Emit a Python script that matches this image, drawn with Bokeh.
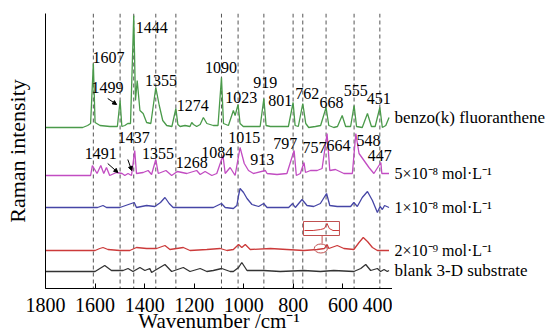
from bokeh.plotting import figure
from bokeh.layouts import row
from bokeh.models import Range1d, Span, Arrow, NormalHead, FixedTicker, ColumnDataSource
from bokeh.embed import file_html
from bokeh.resources import INLINE
from bokeh.core.properties import value

# ---------------- data (wavenumber / cm-1, stacked intensity) ----------------
green_wn = [1800,1650,1630,1618,1607,1600,1580,1540,1510,1499,1492,1480,1468,1457,1444,1437,1430,1419,1406,1392,
            1375,1355,1341,1327,1311,1290,1274,1266,1257,1237,1217,1210,1203,1190,1176,1163,1149,1123,1104,1090,
            1082,1062,1042,1035,1023,1015,1002,960,934,919,910,893,840,820,801,793,780,762,750,738,
            711,690,668,657,637,622,603,589,569,555,545,522,501,485,470,451,441,427,414]
green_y = [160,160,162,164,224,165,162,161,161,187,161,162,164,164,272,187,207,177,174,165,
           164,200,182,167,162,161,179,163,161,162,161,165,163,161,163,170,164,162,162,210,
           164,162,177,172,183,164,161,161,161,189,162,161,161,161,185,162,161,184,164,160,
           161,162,180,162,160,161,172,161,161,182,161,160,174,161,161,180,160,162,170]

purple_wn = [1800,1618,1611,1592,1577,1565,1554,1541,1514,1491,1480,1467,1453,1440,1433,1406,1386,1372,1355,1345,
             1314,1291,1268,1230,1190,1176,1156,1129,1109,1084,1075,1055,1035,1015,998,981,961,913,906,866,
             826,797,788,772,757,751,731,704,684,664,653,630,596,562,548,535,515,495,475,447,
             443,421,414]
purple_y = [112,112,122,114,122,114,120,112,115,114,112,114,112,137,114,115,117,113,128,114,
            117,112,116,114,117,113,116,112,114,132,114,120,112,140,124,117,114,117,114,113,
            114,137,112,114,125,115,117,117,119,154,117,118,114,114,154,134,127,120,114,125,
            114,114,114]

blue_wn = [1800,1590,1568,1554,1500,1442,1433,1392,1359,1336,1318,1301,1285,1230,1176,1123,1090,1075,1042,1028,
           1021,1015,1001,987,967,940,920,906,853,819,803,792,765,745,718,691,666,653,623,569,
           556,542,522,501,481,461,450,441,432,414]
blue_y = [80,80,82,80,80,85,80,82,81,85,90,84,80,80,80,80,84,80,79,82,
          92,99,95,89,83,81,84,80,80,80,84,80,88,82,81,84,94,82,81,81,
          85,81,90,96,87,75,81,78,82,80]

red_wn = [1800,1600,1581,1568,1548,1500,1460,1433,1392,1352,1318,1298,1244,1217,1149,1095,1068,1042,1021,1008,
          994,974,893,826,758,704,675,664,657,623,596,556,535,518,501,481,461,414]
red_y = [37,37,39,40,38,37,37,40,39,39,42,38,40,37,38,39,37,38,43,40,
         43,38,39,38,37,38,39,43,39,42,39,38,45,50,46,40,37,37]

black_wn = [1800,1600,1561,1534,1487,1467,1447,1419,1399,1379,1372,1359,1318,1291,1244,1217,1176,1149,1123,1089,
            1055,1042,1021,1008,987,920,853,758,691,637,556,528,508,488,461,448,434,421,414]
black_y = [16,16,22,17,17,19,16,20,17,19,15,17,23,16,20,16,19,16,17,19,
           16,16,20,25,17,17,16,17,16,17,16,19,23,17,19,16,18,16,17]

inset_wn = [755,720,690,675,664,655,640,616]
inset_y = [57,57,58,59,64,59,57,57]

peak_lines = [1607,1499,1444,1355,1274,1090,1023,919,801,762,668,555,451]

green_labels = ["1607","1499","1444","1355","1274","1090","1023","919","801","762","668","555","451"]
green_label_x = [1610,1614,1436,1399,1270,1156,1075,962,901,792,695,597,504]
green_label_y = [230,200,260,207,182,220,190,205,187,194,185,197,189]

purple_labels = ["1491","1437","1355","1268","1084","1015","913","797","757","664","548","447"]
purple_label_x = [1642,1508,1411,1274,1172,1063,974,881,763,666,545,500]
purple_label_y = [134,150,134,125,135,150,128,144,140,142,147,132]

name_labels = ["benzo(k) fluoranthene", "blank 3-D substrate"]
name_label_y = [170, 17]
conc_labels = ["5×10⁻⁸ mol·L⁻¹", "1×10⁻⁸ mol·L⁻¹", "2×10⁻⁹ mol·L⁻¹"]
conc_label_y = [114, 80, 37]
series_colors = ["#4a9a4a", "#c24cc2", "#4646a6", "#cc3a3a", "#333333"]

x_ticks = [1800,1600,1400,1200,1000,800,600,400]

SERIF = "Liberation Serif"
H = 336
BOTTOM = 48

# ---------------- main figure ----------------
yr = Range1d(-1, 274)
p = figure(width=392, height=H, output_backend="svg", toolbar_location=None,
           x_range=Range1d(1800, 400), y_range=yr,
           min_border_left=45, min_border_right=0, min_border_top=13, min_border_bottom=BOTTOM)
p.outline_line_color = None
p.grid.visible = False

p.xaxis.ticker = FixedTicker(ticks=x_ticks)
p.xaxis.major_tick_in = 5
p.xaxis.major_tick_out = 0
p.xaxis.minor_tick_line_color = None
p.xaxis.axis_line_color = "black"
p.xaxis.major_tick_line_color = "black"
p.xaxis.major_label_text_font = SERIF
p.xaxis.major_label_text_font_size = "20px"
p.xaxis.major_label_text_color = "black"
p.xaxis.major_label_standoff = 9
p.xaxis.axis_label = "Wavenumber /cm⁻¹"
p.xaxis.axis_label_text_font = SERIF
p.xaxis.axis_label_text_font_size = "21px"
p.xaxis.axis_label_text_font_style = "normal"
p.xaxis.axis_label_text_color = "black"
p.xaxis.axis_label_standoff = -6

p.yaxis.ticker = FixedTicker(ticks=[])
p.yaxis.major_tick_in = 0
p.yaxis.major_tick_out = 0
p.yaxis.minor_tick_line_color = None
p.yaxis.axis_line_color = "black"
p.yaxis.major_label_standoff = 0
p.yaxis.axis_label = "Raman intensity"
p.yaxis.axis_label_text_font = SERIF
p.yaxis.axis_label_text_font_size = "22px"
p.yaxis.axis_label_text_font_style = "normal"
p.yaxis.axis_label_text_color = "black"
p.yaxis.axis_label_standoff = 16

for w in peak_lines:
    p.add_layout(Span(location=w, dimension="height", line_color="#555555",
                      line_dash="4 3", line_width=1, level="underlay"))

spectra = [(green_wn, green_y), (purple_wn, purple_y), (blue_wn, blue_y), (red_wn, red_y), (black_wn, black_y)]
for (wn, yy), c in zip(spectra, series_colors):
    p.line(wn, yy, line_color=c, line_width=1.3)

# inset of the 2e-9 spectrum
p.line(inset_wn, inset_y, line_color="#cc3a3a", line_width=1)
p.quad(left=[759], right=[614], bottom=[52], top=[66], fill_color=None,
       line_color="#c05050", line_width=1)
p.segment(x0=[684], y0=[52], x1=[684], y1=[44], line_color="#c05050", line_width=1)
p.ellipse(x=[689], y=[39], width=53, height=9, fill_color=None, line_color="#c05050", line_width=1)

src_g = ColumnDataSource(dict(x=green_label_x, y=green_label_y, t=green_labels))
p.text(x="x", y="y", text="t", source=src_g, text_font=value(SERIF), text_font_size="16px",
       text_align="left", text_baseline="middle", text_color="black")
src_p = ColumnDataSource(dict(x=purple_label_x, y=purple_label_y, t=purple_labels))
p.text(x="x", y="y", text="t", source=src_p, text_font=value(SERIF), text_font_size="16px",
       text_align="left", text_baseline="middle", text_color="black")

arrows = [((1549, 189), (1513, 183)), ((1549, 124), (1508, 115)), ((1468, 128), (1452, 117))]
for (x0, y0), (x1, y1) in arrows:
    p.add_layout(Arrow(x_start=x0, y_start=y0, x_end=x1, y_end=y1, line_width=1, line_color="black",
                       end=NormalHead(size=4, fill_color="black", line_color="black")))

# ---------------- series names panel (right) ----------------
q = figure(width=158, height=H, output_backend="svg", toolbar_location=None,
           x_range=Range1d(0, 158), y_range=yr,
           min_border_left=0, min_border_right=0, min_border_top=13, min_border_bottom=BOTTOM)
q.outline_line_color = None
q.grid.visible = False
q.xaxis.visible = False
q.yaxis.visible = False
src_n = ColumnDataSource(dict(x=[2] * len(name_labels), y=name_label_y, t=name_labels))
q.text(x="x", y="y", text="t", source=src_n, text_font=value(SERIF), text_font_size="17px",
       text_align="left", text_baseline="middle", text_color="black")
src_c = ColumnDataSource(dict(x=[2] * len(conc_labels), y=conc_label_y, t=conc_labels))
q.text(x="x", y="y", text="t", source=src_c, text_font=value(SERIF), text_font_size="16px",
       text_align="left", text_baseline="middle", text_color="black")

layout = row(p, q, spacing=0)
open("out.html", "w").write(file_html(layout, INLINE))
